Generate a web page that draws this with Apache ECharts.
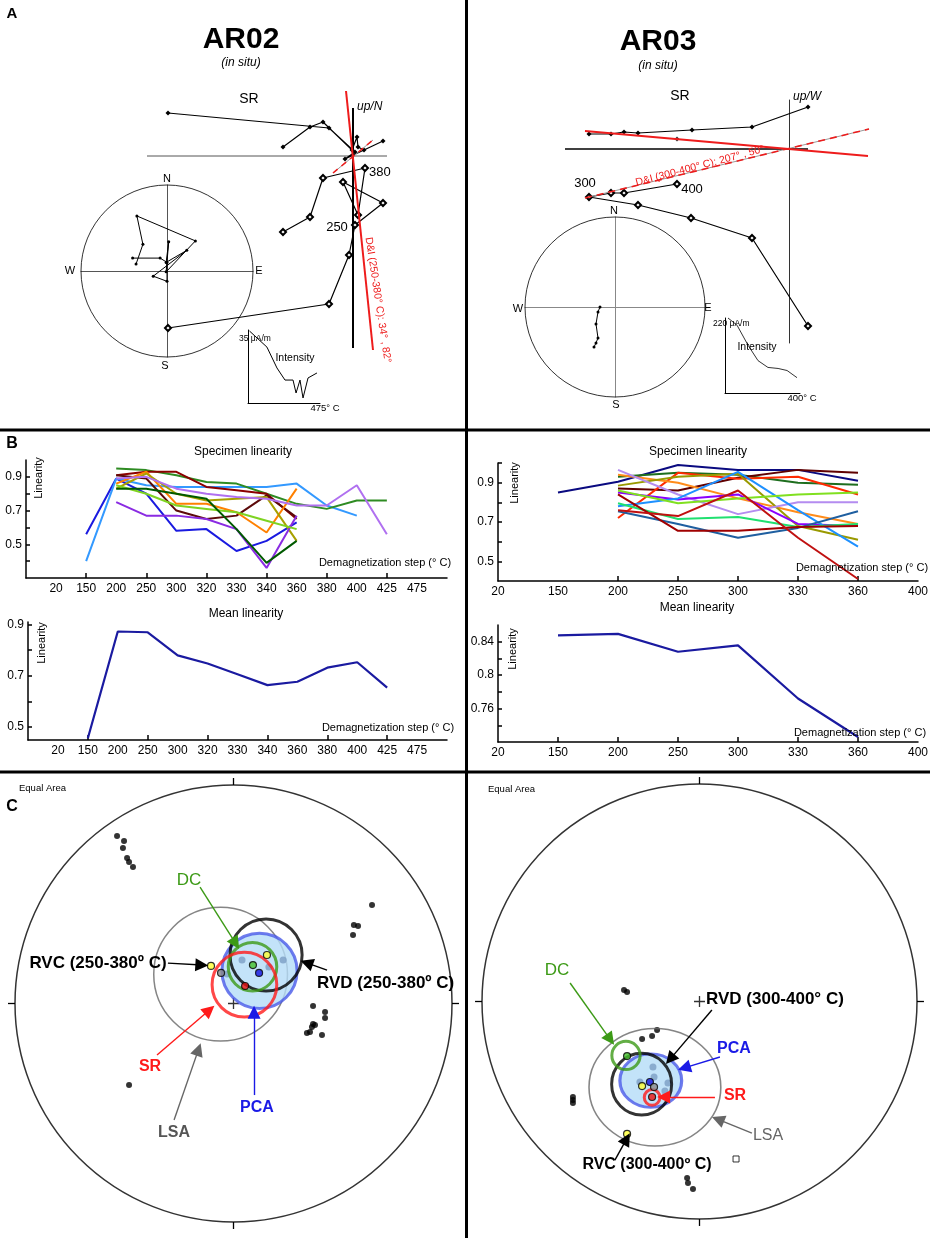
<!DOCTYPE html>
<html><head><meta charset="utf-8">
<script src="https://cdn.jsdelivr.net/npm/echarts@6/dist/echarts.min.js"></script>
<style>html,body{margin:0;padding:0;background:#fff}#c{width:930px;height:1238px}</style>
</head><body><div id="c"></div>
<script>
const FONT = '"Liberation Sans", Arial, Helvetica, sans-serif';

// ================= DATA =================
// Panel A – orthogonal (Zijderveld) projections, arbitrary units (origin at axes crossing)
const zijAR02Horizontal = [[-70,9],[-43,29],[-30,34],[-1,6],[4,19],[5,9],[11,6],[30,15],[-8,-3],[2,4],[-24,28],[-185,43]];
const zijAR02Vertical   = [[-70,-76],[-43,-61],[-30,-22],[12,-12],[5,-59],[-10,-26],[30,-47],[2,-69],[-4,-99],[-24,-148],[-185,-172]];
const fitAR02Solid  = [[-7,65],[20,-194]];
const fitAR02Dashed = [[-20,-17],[20,16]];
const axisAR02H = [[-206,0],[34,0]];

const zijAR03Horizontal = [[-200,15],[-178,15],[-165,17],[-151,16],[-97,19],[-37,22],[19,42]];
const zijAR03HorizontalExtra = [[-112,10]];
const zijAR03Vertical   = [[-112,-35],[-165,-44],[-178,-44],[-200,-48],[-151,-56],[-98,-69],[-37,-89],[19,-177]];
const fitAR03Solid  = [[-204,18],[79,-7]];
const fitAR03Dashed = [[-204,-49],[80,20]];
const axisAR03H = [[-224,0],[19,0]];

// Panel A – small stereonets (unit circle)
const stereoAR02Path = [[-0.36,0.08],[-0.28,0.31],[-0.35,0.64],[0.33,0.35],[-0.01,-0.01],[0.02,0.34],[-0.01,0.10],[0.23,0.24],[-0.16,-0.06],[0.00,-0.12],[0.00,0.10],[-0.08,0.15],[-0.40,0.15]];
const stereoAR03Path = [[-0.167,0.0],[-0.189,-0.056],[-0.211,-0.189],[-0.189,-0.344],[-0.211,-0.4],[-0.233,-0.444]];

// Panel A – intensity decay insets
const intensityAR02Temp  = [10,125,191,244,297,317,343,363,396,455];
const intensityAR02Value = [34.5,26.8,16.8,11,11,4.8,11,2.4,12,14.4];
const intensityAR03Temp  = [16,64,123,176,229,283,331,384];
const intensityAR03Value = [220,199,140,95,75,72,66,45];

// Panel B – linearity
const stepsAR02 = ['20','150','200','250','300','320','330','340','360','380','400','425','475'];
const stepsAR03 = ['20','150','200','250','300','330','360','400'];
const linTicksAR02 = [0.4,0.5,0.6,0.7,0.8,0.9];
const linLabelsAR02 = [0.5,0.7,0.9];
const linTicksAR03 = [0.5,0.6,0.7,0.8,0.9,1.0];
const linLabelsAR03 = [0.5,0.7,0.9];
const meanTicksAR02 = [0.5,0.6,0.7,0.8,0.9];
const meanLabelsAR02 = [0.5,0.7,0.9];
const meanTicksAR03 = [0.74,0.76,0.78,0.8,0.82,0.84];
const meanLabelsAR03 = [0.76,0.8,0.84];

const specAR02_1  = [null,0.56,0.89,0.80,0.58,0.59,0.46,0.52,0.63,null,null,null,null];
const specAR02_2  = [null,0.40,0.89,0.85,0.84,0.84,0.84,0.84,0.86,0.73,0.67,null,null];
const specAR02_3  = [null,null,0.95,0.94,0.91,0.87,0.86,0.80,0.74,0.71,0.76,0.76,null];
const specAR02_4  = [null,null,0.91,0.93,0.93,0.84,0.82,0.80,0.65,null,null,null,null];
const specAR02_5  = [null,null,0.91,0.89,0.70,0.65,0.67,0.79,0.66,null,null,null,null];
const specAR02_6  = [null,null,0.86,0.93,0.74,0.74,0.69,0.57,0.83,null,null,null,null];
const specAR02_7  = [null,null,0.83,0.92,0.80,0.76,0.77,0.78,0.52,null,null,null,null];
const specAR02_8  = [null,null,0.89,0.90,0.83,0.80,0.78,0.77,0.73,0.73,0.85,0.56,null];
const specAR02_9  = [null,null,0.75,0.67,0.67,0.65,0.59,0.36,0.67,null,null,null,null];
const specAR02_10 = [null,null,0.85,0.80,0.73,0.71,0.69,0.64,0.59,null,null,null,null];
const specAR02_11 = [null,null,0.83,0.83,0.80,0.77,0.59,0.39,0.52,null,null,null,null];
const meanAR02    = [null,0.457,0.873,0.870,0.78,0.748,0.706,0.664,0.677,0.732,0.753,0.654,null];

const specAR03_1  = [null,0.85,0.905,0.99,0.965,0.965,0.91,null];
const specAR03_2  = [null,null,0.93,0.95,0.94,0.90,0.89,null];
const specAR03_3  = [null,null,0.87,0.86,0.925,0.965,0.95,null];
const specAR03_4  = [null,null,0.72,0.95,0.92,0.93,0.84,null];
const specAR03_5  = [null,null,0.94,0.90,0.82,0.75,0.69,null];
const specAR03_6  = [null,null,0.885,0.93,0.945,0.68,0.61,null];
const specAR03_7  = [null,null,0.965,0.84,0.74,0.80,0.80,null];
const specAR03_8  = [null,null,0.85,0.815,0.84,0.69,0.68,null];
const specAR03_9  = [null,null,0.78,0.82,0.955,0.76,0.575,null];
const specAR03_10 = [null,null,0.86,0.795,0.82,0.84,0.85,null];
const specAR03_11 = [null,null,0.795,0.715,0.725,0.675,0.69,null];
const specAR03_12 = [null,null,0.755,0.69,0.62,0.67,0.755,null];
const specAR03_13 = [null,null,0.84,0.655,0.655,0.675,0.68,null];
const specAR03_14 = [null,null,0.76,0.73,0.86,0.62,0.41,null];
const meanAR03    = [null,0.8475,0.8494,0.828,0.8357,0.772,0.726,null];

// Panel C – equal-area site plots (unit circle)
const siteAR02Specimens = [[-0.533,0.767],[-0.501,0.744],[-0.506,0.712],[-0.487,0.666],[-0.478,0.648],[-0.460,0.625],[0.634,0.451],[0.551,0.359],[0.570,0.355],[0.547,0.314],[0.364,-0.011],[0.419,-0.039],[0.419,-0.066],[0.364,-0.094],[0.359,-0.108],[0.336,-0.135],[0.350,-0.130],[0.373,-0.098],[0.405,-0.144],[-0.478,-0.373]];
const siteAR02PcaDirs = [[0.039,0.199],[0.227,0.199],[-0.030,0.135],[0.162,0.167]];
const siteAR02Means = [[-0.103,0.172],[-0.057,0.140],[0.153,0.222],[0.089,0.176],[0.117,0.140],[0.053,0.080]];
const siteAR02MeanMethods = ['RVC','LSA','RVD','DC','PCA','SR'];
const coneAR02LSA = [-0.059,0.134,0.306,0.306];
const coneAR02PCA = [0.119,0.149,0.172,0.172];
const coneAR02RVD = [0.149,0.222,0.165,0.165];
const coneAR02DC  = [0.087,0.168,0.111,0.111];
const coneAR02SR  = [0.050,0.086,0.148,0.148];
const arrowAR02Methods = ['DC','RVC','RVD','SR','LSA','PCA'];
const arrowAR02From = [[-0.153,0.533],[-0.300,0.185],[0.428,0.153],[-0.350,-0.236],[-0.272,-0.533],[0.094,-0.419]];
const arrowAR02To   = [[0.010,0.275],[-0.145,0.176],[0.335,0.186],[-0.110,-0.030],[-0.160,-0.210],[0.094,-0.040]];

const siteAR03Specimens = [[-0.347,0.053],[-0.333,0.044],[-0.264,-0.172],[-0.218,-0.159],[-0.195,-0.131],[-0.582,-0.439],[-0.582,-0.453],[-0.582,-0.467],[-0.057,-0.811],[-0.053,-0.834],[-0.030,-0.862]];
const siteAR03Other = [[0.168,-0.724]];
const siteAR03PcaDirs = [[-0.274,-0.370],[-0.214,-0.301],[-0.145,-0.375],[-0.159,-0.411],[-0.209,-0.347]];
const siteAR03Means = [[-0.333,-0.251],[-0.264,-0.389],[-0.228,-0.370],[-0.209,-0.393],[-0.218,-0.439],[-0.333,-0.609]];
const siteAR03MeanMethods = ['DC','RVD','PCA','LSA','SR','RVC'];
const coneAR03LSA = [-0.205,-0.394,0.303,0.270];
const coneAR03PCA = [-0.224,-0.364,0.142,0.123];
const coneAR03RVD = [-0.266,-0.380,0.138,0.142];
const coneAR03DC  = [-0.338,-0.248,0.065,0.065];
const coneAR03SR  = [-0.218,-0.441,0.036,0.036];
const arrowAR03Methods = ['RVD','DC','PCA','SR','LSA','RVC'];
const arrowAR03From = [[0.057,-0.039],[-0.595,0.085],[0.094,-0.255],[0.071,-0.439],[0.241,-0.605],[-0.389,-0.729]];
const arrowAR03To   = [[-0.135,-0.265],[-0.410,-0.175],[-0.070,-0.305],[-0.165,-0.439],[0.085,-0.542],[-0.335,-0.632]];

const eqAreaTicks = [[[0,1],[0,1.032]],[[0,-1],[0,-1.032]],[[-1,0],[-1.032,0]],[[1,0],[1.032,0]]];

// ================= STYLE / LAYOUT =================
const methodColor = {DC:'#3c9a16', RVC:'#000', RVD:'#000', SR:'#ff1a1a', LSA:'#666', PCA:'#1a1ae6'};
const meanDotColor = {DC:'#44c02a', RVC:'#ffff33', RVD:'#ffff33', SR:'#e81010', LSA:'#8a8a8a', PCA:'#1010e0'};
const colorsAR02 = ['#1a1ae0','#3399ff','#2e8b22','#8b0000','#5c0a0a','#ff8000','#a8a000','#b070f0','#8a2be2','#7ed321','#005a00'];
const colorsAR03 = ['#0a0a80','#1e6e1e','#600000','#ff2a00','#ff8c1a','#999900','#b48cf0','#8a00ff','#1e90ff','#80e020','#20e070','#1f5fa0','#a00000','#c01010'];

const GRIDS = [
  {left:147, top:80,  width:240, height:300},  // 0 Zij AR02 (origin at x=353,y=156)
  {left:81,  top:185, width:172, height:172},  // 1 stereo AR02
  {left:248, top:330, width:72,  height:73},   // 2 intensity AR02
  {left:565, top:100, width:306, height:243},  // 3 Zij AR03 (origin at x=789,y=149)
  {left:525, top:217, width:180, height:180},  // 4 stereo AR03
  {left:725, top:318, width:75,  height:75},   // 5 intensity AR03
  {left:26,  top:460, width:421, height:118},  // 6 spec AR02
  {left:498, top:463, width:420, height:118},  // 7 spec AR03
  {left:28,  top:622, width:419, height:118},  // 8 mean AR02
  {left:498, top:625, width:420, height:117},  // 9 mean AR03
  {left:15,  top:785, width:437, height:437},  // 10 site AR02
  {left:482, top:784, width:435, height:435}   // 11 site AR03
];

function plainAxis(gi, min, max, line) {
  return {type:'value', gridIndex:gi, min, max,
    axisLine: line ? {show:true, onZero:true, lineStyle:line} : {show:false},
    axisTick:{show:false}, axisLabel:{show:false}, splitLine:{show:false}};
}
function bXAxis(gi, min, max, labels, ticks) {
  return {type:'value', gridIndex:gi, min, max,
    axisLine:{show:true, onZero:false, lineStyle:{color:'#000', width:1.5}},
    axisTick:{show:true, inside:true, length:5, customValues:ticks, lineStyle:{color:'#000', width:1.5}},
    axisLabel:{show:true, customValues:labels.map((_,i)=>i), formatter:v=>labels[Math.round(v)]||'', fontSize:12, color:'#000', margin:5, fontFamily:FONT},
    splitLine:{show:false}};
}
function bYAxis(gi, min, max, ticks, labels) {
  return {type:'value', gridIndex:gi, min, max,
    axisLine:{show:true, onZero:false, lineStyle:{color:'#000', width:1.5}},
    axisTick:{show:true, inside:true, length:4, customValues:ticks, lineStyle:{color:'#000', width:1.5}},
    axisLabel:{show:true, customValues:labels, formatter:v=>String(+(+v).toFixed(2)), fontSize:12, color:'#000', margin:4, fontFamily:FONT},
    splitLine:{show:false}};
}

const xAxis = [
  plainAxis(0,-206,34,null),
  plainAxis(1,-1,1,{color:'#555',width:1}),
  plainAxis(2,0,475,{color:'#000',width:1}),
  plainAxis(3,-224,82,null),
  plainAxis(4,-1,1,{color:'#888',width:1}),
  plainAxis(5,0,400,{color:'#000',width:1}),
  bXAxis(6,-1,13,stepsAR02,[1,3,5,7,9,11]),
  bXAxis(7,0,7,stepsAR03,[2,3,4,5,6]),
  bXAxis(8,-1,13,stepsAR02,[1,3,5,7,9,11]),
  bXAxis(9,0,7,stepsAR03,[1,2,3,4,5,6]),
  plainAxis(10,-1,1,null),
  plainAxis(11,-1,1,null)
];
const yAxis = [
  plainAxis(0,-224,76,null),
  plainAxis(1,-1,1,{color:'#555',width:1}),
  plainAxis(2,0,35,{color:'#000',width:1}),
  plainAxis(3,-194,49,{color:'#333',width:1}),
  plainAxis(4,-1,1,{color:'#888',width:1}),
  plainAxis(5,0,220,{color:'#000',width:1}),
  bYAxis(6,0.3,1.0,linTicksAR02,linLabelsAR02),
  bYAxis(7,0.4,1.0,linTicksAR03,linLabelsAR03),
  bYAxis(8,0.45,0.91,meanTicksAR02,meanLabelsAR02),
  bYAxis(9,0.72,0.86,meanTicksAR03,meanLabelsAR03),
  plainAxis(10,-1,1,null),
  plainAxis(11,-1,1,null)
];
// AR02 vertical axis (x = 0) spans y from -192 to 48
const axisAR02V = [[0,-192],[0,48]];

const S = [];
function on(gi, o) { o.xAxisIndex = gi; o.yAxisIndex = gi; o.clip = false; o.silent = true; S.push(o); return o; }
const zipPairs = (xs, ys) => xs.map((x,i)=>[x, ys[i]]);
const stepPairs = vals => vals.map((v,i)=>[i,v]).filter(p=>p[1]!=null);

// --- Zijderveld AR02 ---
on(0,{type:'line', data:axisAR02H, symbol:'none', lineStyle:{color:'#555', width:1}, z:1});
on(0,{type:'line', data:axisAR02V, symbol:'none', lineStyle:{color:'#000', width:2}, z:1});
on(0,{type:'line', data:zijAR02Horizontal, symbol:'diamond', symbolSize:5, itemStyle:{color:'#000'}, lineStyle:{color:'#000', width:1.2}});
on(0,{type:'line', data:zijAR02Vertical, symbol:'emptyDiamond', symbolSize:6, itemStyle:{color:'#000', borderColor:'#000', borderWidth:1}, lineStyle:{color:'#000', width:1.2}});
on(0,{type:'line', data:fitAR02Dashed, symbol:'none', lineStyle:{color:'#9a9a9a', width:1}, z:4});
on(0,{type:'line', data:fitAR02Dashed, symbol:'none', lineStyle:{color:'#ee1c1c', width:1.6, type:[6,5]}, z:4});
on(0,{type:'line', data:fitAR02Solid, symbol:'none', lineStyle:{color:'#ee1c1c', width:2}, z:5});
// --- Stereo AR02 ---
on(1,{type:'scatter', data:[[0,0]], symbol:'circle', symbolSize:GRIDS[1].width, itemStyle:{color:'rgba(0,0,0,0)', borderColor:'#000', borderWidth:1}});
on(1,{type:'line', data:stereoAR02Path, symbol:'circle', symbolSize:3, itemStyle:{color:'#000'}, lineStyle:{color:'#000', width:1}});
// --- Intensity AR02 ---
on(2,{type:'line', data:zipPairs(intensityAR02Temp,intensityAR02Value), symbol:'none', lineStyle:{color:'#000', width:1}});
// --- Zijderveld AR03 ---
on(3,{type:'line', data:axisAR03H, symbol:'none', lineStyle:{color:'#000', width:1.5}, z:1});
on(3,{type:'line', data:zijAR03Horizontal, symbol:'diamond', symbolSize:5, itemStyle:{color:'#000'}, lineStyle:{color:'#000', width:1.2}});
on(3,{type:'scatter', data:zijAR03HorizontalExtra, symbol:'diamond', symbolSize:5, itemStyle:{color:'#000'}});
on(3,{type:'line', data:zijAR03Vertical, symbol:'emptyDiamond', symbolSize:6, itemStyle:{color:'#000', borderColor:'#000', borderWidth:1}, lineStyle:{color:'#000', width:1.2}});
on(3,{type:'line', data:fitAR03Dashed, symbol:'none', lineStyle:{color:'#9a9a9a', width:1}, z:4});
on(3,{type:'line', data:fitAR03Dashed, symbol:'none', lineStyle:{color:'#ee1c1c', width:1.6, type:[7,5]}, z:4});
on(3,{type:'line', data:fitAR03Solid, symbol:'none', lineStyle:{color:'#ee1c1c', width:2}, z:5});
// --- Stereo AR03 ---
on(4,{type:'scatter', data:[[0,0]], symbol:'circle', symbolSize:GRIDS[4].width, itemStyle:{color:'rgba(0,0,0,0)', borderColor:'#000', borderWidth:1}});
on(4,{type:'line', data:stereoAR03Path, symbol:'circle', symbolSize:3, itemStyle:{color:'#000'}, lineStyle:{color:'#000', width:1}});
// --- Intensity AR03 ---
on(5,{type:'line', data:zipPairs(intensityAR03Temp,intensityAR03Value), symbol:'none', lineStyle:{color:'#000', width:0.8}});

// --- Panel B ---
[specAR02_1,specAR02_2,specAR02_3,specAR02_4,specAR02_5,specAR02_6,specAR02_7,specAR02_8,specAR02_9,specAR02_10,specAR02_11]
  .forEach((s,i)=>on(6,{type:'line', data:stepPairs(s), symbol:'none', lineStyle:{color:colorsAR02[i], width:2}}));
[specAR03_1,specAR03_2,specAR03_3,specAR03_4,specAR03_5,specAR03_6,specAR03_7,specAR03_8,specAR03_9,specAR03_10,specAR03_11,specAR03_12,specAR03_13,specAR03_14]
  .forEach((s,i)=>on(7,{type:'line', data:stepPairs(s), symbol:'none', lineStyle:{color:colorsAR03[i], width:2}}));
on(8,{type:'line', data:stepPairs(meanAR02), symbol:'none', lineStyle:{color:'#1a1aa0', width:2.2}});
on(9,{type:'line', data:stepPairs(meanAR03), symbol:'none', lineStyle:{color:'#1a1aa0', width:2.2}});

// --- Panel C ---
function sitePlot(gi, spec, other, pcaDirs, means, meanMethods, lsa, pca, rvd, dc, sr, arrMethods, arrFrom, arrTo) {
  const R = GRIDS[gi].width / 2;
  const cone = (c, color, width, fill, z) => on(gi,{type:'scatter', data:[[c[0],c[1]]], symbol:'circle',
      symbolSize:[2*c[2]*R, 2*c[3]*R], itemStyle:{color:fill, borderColor:color, borderWidth:width}, z});
  on(gi,{type:'scatter', data:[[0,0]], symbol:'circle', symbolSize:2*R, itemStyle:{color:'rgba(0,0,0,0)', borderColor:'#000', borderWidth:1.5}, z:1});
  on(gi,{type:'lines', coordinateSystem:'cartesian2d', data:eqAreaTicks.map(c=>({coords:c})), symbol:'none', lineStyle:{color:'#000', width:1.3, opacity:1}, z:1});
  on(gi,{type:'scatter', data:[[0,0]], symbol:'path://M0,4.4 L10,4.4 L10,5.6 L0,5.6 Z M4.4,0 L5.6,0 L5.6,10 L4.4,10 Z', symbolSize:11, itemStyle:{color:'#000'}, z:2});
  on(gi,{type:'scatter', data:spec, symbol:'circle', symbolSize:6, itemStyle:{color:'#000'}, z:3});
  if (other) on(gi,{type:'scatter', data:other, symbol:'rect', symbolSize:6, itemStyle:{color:'#fff', borderColor:'#000', borderWidth:1}, z:3});
  cone(lsa,'#666',1.5,'rgba(0,0,0,0)',4);
  cone(pca,'#4a5ae8',3,'#b4dcf8',5);
  on(gi,{type:'scatter', data:pcaDirs, symbol:'circle', symbolSize:7, itemStyle:{color:'#7c9ec4'}, z:6});
  cone(rvd,'#000',3,'rgba(0,0,0,0)',7);
  cone(dc,'#3c9a16',3,'rgba(0,0,0,0)',8);
  cone(sr,'#ff1a1a',3,'rgba(0,0,0,0)',9);
  on(gi,{type:'scatter', data:means.map((p,i)=>({value:p, itemStyle:{color:meanDotColor[meanMethods[i]]}})), symbol:'circle', symbolSize:7,
     itemStyle:{borderColor:'#000', borderWidth:1.2}, z:10});
  on(gi,{type:'lines', coordinateSystem:'cartesian2d', z:11, symbol:['none','triangle'], symbolSize:13,
     data:arrFrom.map((f,i)=>({coords:[f, arrTo[i]], lineStyle:{color:methodColor[arrMethods[i]]}})),
     lineStyle:{width:1.4, opacity:1}});
}
sitePlot(10, siteAR02Specimens, null, siteAR02PcaDirs, siteAR02Means, siteAR02MeanMethods,
  coneAR02LSA, coneAR02PCA, coneAR02RVD, coneAR02DC, coneAR02SR, arrowAR02Methods, arrowAR02From, arrowAR02To);
sitePlot(11, siteAR03Specimens, siteAR03Other, siteAR03PcaDirs, siteAR03Means, siteAR03MeanMethods,
  coneAR03LSA, coneAR03PCA, coneAR03RVD, coneAR03DC, coneAR03SR, arrowAR03Methods, arrowAR03From, arrowAR03To);

// ================= TEXT / FRAME GRAPHICS =================
function T(text, x, y, o) {
  o = o || {};
  return {type:'text', x, y, rotation:o.rot||0, z:100, silent:true,
    style:{text, fill:o.color||'#000', font:(o.style||'normal')+' '+(o.weight||'normal')+' '+(o.size||12)+'px '+FONT,
      align:o.align||'center', verticalAlign:o.va||'middle'}};
}
function L(x1,y1,x2,y2,w){ return {type:'line', z:100, silent:true, shape:{x1,y1,x2,y2}, style:{stroke:'#000', lineWidth:w}}; }

const G = [
  L(466.5,0,466.5,1238,3), L(0,430,930,430,3), L(0,772,930,772,3),
  T('A',12,14,{weight:'bold',size:15}), T('B',12,444,{weight:'bold',size:16}), T('C',12,807,{weight:'bold',size:16}),
  // Panel A left
  T('AR02',241,40,{weight:'bold',size:30}), T('(in situ)',241,63,{style:'italic',size:12}),
  T('SR',249,99,{size:14}), T('up/N',357,107,{style:'italic',size:12,align:'left'}),
  T('380',369,172,{size:13,align:'left'}), T('250',337,227,{size:13}),
  T('N',167,179,{size:11}), T('S',165,366,{size:11}), T('W',70,271,{size:11}), T('E',259,271,{size:11}),
  T('35 μA/m',239,339,{size:8.5,align:'left'}), T('Intensity',295,358,{size:10.5}), T('475° C',325,408,{size:9.5}),
  T('D&I (250-380° C): 34° , 82°',378,300,{size:10.5,color:'#ee1c1c',rot:-1.42}),
  // Panel A right
  T('AR03',658,42,{weight:'bold',size:30}), T('(in situ)',658,66,{style:'italic',size:12}),
  T('SR',680,96,{size:14}), T('up/W',793,97,{style:'italic',size:12,align:'left'}),
  T('300',585,183,{size:13}), T('400',692,189,{size:13}),
  T('N',614,211,{size:11}), T('S',616,405,{size:11}), T('W',518,309,{size:11}), T('E',708,308,{size:11}),
  T('220 μA/m',713,324,{size:8.5,align:'left'}), T('Intensity',757,347,{size:10.5}), T('400° C',802,398,{size:9.5}),
  T('D&I (300-400° C): 207° , 50°',700,166,{size:10.5,color:'#ee1c1c',rot:0.26}),
  // Panel B
  T('Specimen linearity',243,452,{size:12}), T('Specimen linearity',698,452,{size:12}),
  T('Mean linearity',246,614,{size:12}), T('Mean linearity',697,608,{size:12}),
  T('Linearity',39,478,{size:11,rot:Math.PI/2}), T('Linearity',515,483,{size:11,rot:Math.PI/2}),
  T('Linearity',42,643,{size:11,rot:Math.PI/2}), T('Linearity',513,649,{size:11,rot:Math.PI/2}),
  T('Demagnetization step (° C)',385,563,{size:11}), T('Demagnetization step (° C)',862,568,{size:11}),
  T('Demagnetization step (° C)',388,728,{size:11}), T('Demagnetization step (° C)',860,733,{size:11}),
  // Panel C
  T('Equal Area',19,788,{size:9.5,align:'left'}), T('Equal Area',488,789,{size:9.5,align:'left'}),
  T('DC',189,880,{size:17,color:methodColor.DC}),
  T('RVC (250-380º C)',98,963,{size:17,weight:'bold'}),
  T('RVD (250-380º C)',317,983,{size:17,weight:'bold',align:'left'}),
  T('SR',150,1067,{size:16,weight:'bold',color:methodColor.SR}),
  T('LSA',174,1133,{size:16,weight:'bold',color:'#555'}),
  T('PCA',257,1108,{size:16,weight:'bold',color:methodColor.PCA}),
  T('DC',557,970,{size:17,color:methodColor.DC}),
  T('RVD (300-400° C)',706,999,{size:17,weight:'bold',align:'left'}),
  T('PCA',734,1049,{size:16,weight:'bold',color:methodColor.PCA}),
  T('SR',735,1096,{size:16,weight:'bold',color:methodColor.SR}),
  T('LSA',768,1136,{size:16,color:'#666'}),
  T('RVC (300-400º C)',647,1165,{size:16,weight:'bold'})
];

const chart = echarts.init(document.getElementById('c'), null, {renderer:'canvas'});
chart.setOption({
  animation:false,
  backgroundColor:'#fff',
  textStyle:{fontFamily:FONT},
  grid: GRIDS.map(g=>Object.assign({containLabel:false, outerBoundsMode:'none'}, g)),
  xAxis, yAxis,
  series:S,
  graphic:G
});
</script></body></html>
